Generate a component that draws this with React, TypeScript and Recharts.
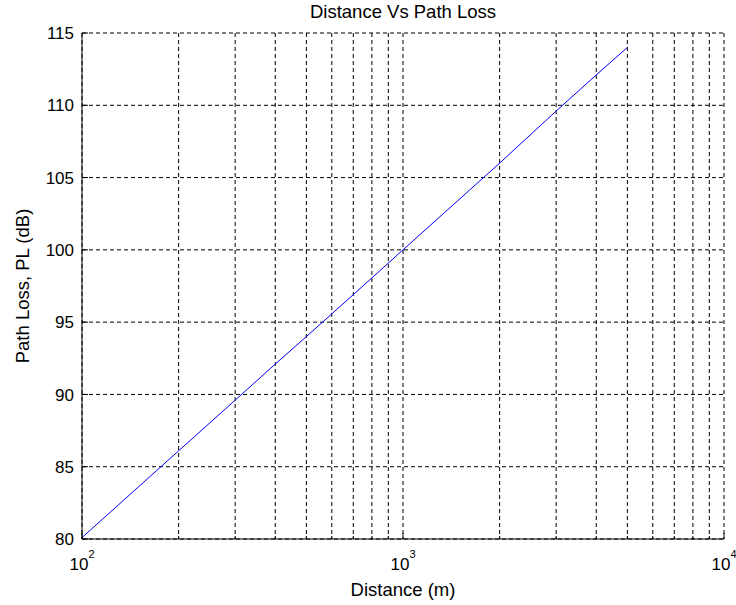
import React from 'react';
import { LineChart, Line, XAxis, YAxis, CartesianGrid } from 'recharts';

// values (log x axis)
const distances = [100, 200, 300, 400, 500, 700, 1000, 2000, 3000, 4000, 5000];
const pathLoss = [80.1, 86.1, 89.6, 92.1, 94.0, 96.9, 100.0, 106.0, 109.6, 112.1, 114.0];

const xTicks = [100, 200, 300, 400, 500, 600, 700, 800, 900, 1000, 2000, 3000, 4000, 5000, 6000, 7000, 8000, 9000, 10000];
const decadeLabels: Record<number, string> = { 100: '2', 1000: '3', 10000: '4' };
const yTicks = [80, 85, 90, 95, 100, 105, 110, 115];

const chartData = distances.map((d, i) => ({ distance: d, pl: pathLoss[i] }));

const FONT = '"Liberation Sans", Arial, Helvetica, sans-serif';

const XTick = (props: any) => {
    const { x, y, payload } = props;
    const sup = decadeLabels[payload.value];
    const major = sup !== undefined;
    return (
        <g>
            <line x1={x} y1={y} x2={x} y2={y - (major ? 6 : 3)} stroke="#000" />
            {major && (
                <text x={x} y={y + 31} textAnchor="middle" fontSize={17} fontFamily={FONT} fill="#000">
                    10
                    <tspan dy={-12} fontSize={11}>{sup}</tspan>
                </text>
            )}
        </g>
    );
};

const TopTick = (props: any) => {
    const { x, y, payload } = props;
    const major = decadeLabels[payload.value] !== undefined;
    return <line x1={x} y1={y} x2={x} y2={y + (major ? 6 : 3)} stroke="#000" />;
};

const YTick = (props: any) => {
    const { x, y, payload } = props;
    return (
        <g>
            <line x1={x} y1={y} x2={x + 6} y2={y} stroke="#000" />
            <text x={x - 8} y={y} dy="0.36em" textAnchor="end" fontSize={17} fontFamily={FONT} fill="#000">
                {payload.value}
            </text>
        </g>
    );
};

const RightTick = (props: any) => {
    const { x, y } = props;
    return <line x1={x} y1={y} x2={x - 6} y2={y} stroke="#000" />;
};

const App: React.FC = () => {
    return (
        <div style={{ position: 'absolute', left: 0, top: 0, width: 736, height: 605, background: '#fff' }}>
            <LineChart width={736} height={605} data={chartData} margin={{ top: 33, right: 12, bottom: 0, left: 0 }}>
                <CartesianGrid stroke="#000" strokeDasharray="4 3" verticalValues={xTicks} horizontalValues={yTicks} />
                <XAxis
                    dataKey="distance"
                    type="number"
                    scale="log"
                    domain={[100, 10000]}
                    ticks={xTicks}
                    interval={0}
                    allowDataOverflow
                    height={66}
                    tickSize={0}
                    tickMargin={0}
                    tick={<XTick />}
                    axisLine={{ stroke: '#000' }}
                />
                <XAxis
                    xAxisId="top"
                    orientation="top"
                    dataKey="distance"
                    type="number"
                    scale="log"
                    domain={[100, 10000]}
                    ticks={xTicks}
                    interval={0}
                    allowDataOverflow
                    height={0}
                    tickSize={0}
                    tickMargin={0}
                    tick={<TopTick />}
                    axisLine={{ stroke: '#000' }}
                />
                <YAxis
                    type="number"
                    domain={[80, 115]}
                    ticks={yTicks}
                    interval={0}
                    width={82}
                    tickSize={0}
                    tickMargin={0}
                    tick={<YTick />}
                    axisLine={{ stroke: '#000' }}
                />
                <YAxis
                    yAxisId="right"
                    orientation="right"
                    type="number"
                    domain={[80, 115]}
                    ticks={yTicks}
                    interval={0}
                    width={0}
                    tickSize={0}
                    tickMargin={0}
                    tick={<RightTick />}
                    axisLine={{ stroke: '#000' }}
                />
                <Line
                    dataKey="pl"
                    type="linear"
                    stroke="#0000ff"
                    strokeWidth={1}
                    dot={false}
                    isAnimationActive={false}
                />
                <text x={403} y={18} textAnchor="middle" fontSize={18.5} fontFamily={FONT} fill="#000">
                    Distance Vs Path Loss
                </text>
                <text x={403} y={596} textAnchor="middle" fontSize={18.5} fontFamily={FONT} fill="#000">
                    Distance (m)
                </text>
                <text
                    x={29}
                    y={286}
                    textAnchor="middle"
                    fontSize={18.5}
                    fontFamily={FONT}
                    fill="#000"
                    transform="rotate(-90 29 286)"
                >
                    Path Loss, PL (dB)
                </text>
            </LineChart>
        </div>
    );
};

export default App;
